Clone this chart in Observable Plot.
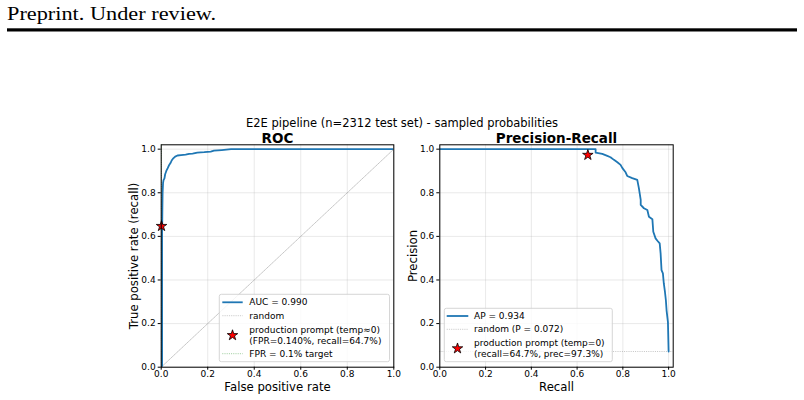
<!DOCTYPE html>
<html><head><meta charset="utf-8">
<script src="https://cdn.jsdelivr.net/npm/d3@7"></script>
<script src="https://cdn.jsdelivr.net/npm/@observablehq/plot@0.6"></script>
<style>
html,body{margin:0;padding:0;background:#fff;}
#page{position:relative;width:804px;height:400px;overflow:hidden;font-family:"DejaVu Sans",sans-serif;}
#page svg{position:absolute;}
</style></head><body><div id="page"></div>
<script>
// ---------- data ----------
const xTicks = [0, 0.2, 0.4, 0.6, 0.8, 1.0];
const yTicks = [0, 0.2, 0.4, 0.6, 0.8, 1.0];

const rocFpr = [0, 0.004, 0.004, 0.005, 0.006, 0.008, 0.010, 0.014, 0.017, 0.022, 0.028, 0.033, 0.040, 0.045, 0.052, 0.060, 0.070, 0.085, 0.105, 0.120, 0.135, 0.155, 0.185, 0.213, 0.227, 0.260, 0.300, 1.0];
const rocTpr = [0, 0, 0.62, 0.72, 0.80, 0.845, 0.858, 0.866, 0.885, 0.900, 0.913, 0.925, 0.936, 0.948, 0.958, 0.966, 0.971, 0.973, 0.975, 0.978, 0.980, 0.984, 0.986, 0.989, 0.993, 0.996, 1.0, 1.0];

const prRecall = [0, 0.681, 0.681, 0.710, 0.732, 0.746, 0.761, 0.776, 0.790, 0.798, 0.812, 0.819, 0.841, 0.863, 0.870, 0.878, 0.878, 0.892, 0.907, 0.914, 0.929, 0.933, 0.943, 0.951, 0.961, 0.965, 0.969, 0.975, 0.979, 0.984, 0.988, 0.991, 0.997, 0.999, 1.0];
const prPrecision = [1, 1, 0.984, 0.978, 0.969, 0.963, 0.951, 0.940, 0.928, 0.913, 0.894, 0.877, 0.867, 0.859, 0.821, 0.767, 0.744, 0.729, 0.721, 0.690, 0.679, 0.621, 0.591, 0.580, 0.568, 0.522, 0.445, 0.430, 0.384, 0.345, 0.307, 0.261, 0.207, 0.115, 0.072];

const randomX = [0, 1];
const randomY = [0, 1];
const opFpr = [0.0014];
const opRecall = [0.647];
const opPrecision = [0.973];
const fprTarget = [0.001];
const baseRate = [0.072];

const headerText = "Preprint. Under review.";
const suptitle = "E2E pipeline (n=2312 test set) - sampled probabilities";
const panelTitles = ["ROC", "Precision-Recall"];
const xLabels = ["False positive rate", "Recall"];
const yLabels = ["True positive rate (recall)", "Precision"];
const rocLegendLabels = ["AUC = 0.990", "random", ["production prompt (temp\u22480)", "(FPR=0.140%, recall=64.7%)"], "FPR = 0.1% target"];
const prLegendLabels = ["AP = 0.934", "random (P = 0.072)", ["production prompt (temp=0)", "(recall=64.7%, prec=97.3%)"]];

// ---------- build ----------
const BLUE = "#1f77b4";
const fmt = d3.format(".1f");
const page = document.getElementById("page");

const rocData = rocFpr.map((f, i) => ({fpr: f, tpr: rocTpr[i]}));
const prData = prRecall.map((r, i) => ({recall: r, precision: prPrecision[i]}));
const diag = randomX.map((x, i) => ({x, y: randomY[i]}));

const gridStyle = {stroke: "#b0b0b0", strokeOpacity: 0.35, strokeWidth: 0.8};
const commonStyle = {background: "transparent", overflow: "visible", fontFamily: "DejaVu Sans", fontSize: "9px", color: "black"};

function panel(opts) {
  return Plot.plot({
    width: 300, height: 290,
    marginLeft: opts.ml, marginRight: opts.mr, marginTop: 34.3, marginBottom: 33.3,
    x: {domain: opts.xDomain, label: null},
    y: {domain: [0, 1.02], label: null},
    style: commonStyle,
    marks: [
      Plot.gridX(xTicks, gridStyle),
      Plot.gridY(yTicks, gridStyle),
      ...opts.marks,
      Plot.axisX(xTicks, {tickFormat: fmt, tickSize: 3, tickPadding: 0.5, label: null}),
      Plot.axisY(yTicks, {tickFormat: fmt, tickSize: 3, tickPadding: 2.5, label: null}),
      Plot.frame({stroke: "black", strokeWidth: 1}),
      Plot.text([opts.title], {text: d => d, frameAnchor: "top", textAnchor: "middle", lineAnchor: "middle", dy: -6.1, fontWeight: "bold", fontSize: 13.5}),
      Plot.text([opts.xLabel], {text: d => d, frameAnchor: "bottom", textAnchor: "middle", lineAnchor: "middle", dy: 19.6, fontSize: 11.7}),
      Plot.text([opts.yLabel], {text: d => d, frameAnchor: "left", textAnchor: "middle", lineAnchor: "middle", dx: -26.7, rotate: -90, fontSize: 11.7})
    ]
  });
}

const roc = panel({
  ml: 60.7, mr: 6.7, xDomain: [0, 1],
  title: panelTitles[0], xLabel: xLabels[0], yLabel: yLabels[0],
  marks: [
    Plot.line(diag, {x: "x", y: "y", stroke: "#888", strokeOpacity: 0.7, strokeWidth: 0.7, strokeDasharray: "1.2,1"}),
    Plot.ruleX(fprTarget, {stroke: "green", strokeOpacity: 0.5, strokeWidth: 0.8, strokeDasharray: "1,1.2"}),
    Plot.line(rocData, {x: "fpr", y: "tpr", stroke: BLUE, strokeWidth: 1.8, clip: true}),
    Plot.dot(opFpr.map((f, i) => ({fpr: f, tpr: opRecall[i]})), {x: "fpr", y: "tpr", symbol: "star", r: 3.3, fill: "red", stroke: "black", strokeWidth: 0.8})
  ]
});
roc.style.left = "100px"; roc.style.top = "110px";
page.appendChild(roc);

const pr = panel({
  ml: 59.3, mr: 7.3, xDomain: [0, 1.02],
  title: panelTitles[1], xLabel: xLabels[1], yLabel: yLabels[1],
  marks: [
    Plot.ruleY(baseRate, {stroke: "#888", strokeOpacity: 0.7, strokeWidth: 0.7, strokeDasharray: "1,1.2"}),
    Plot.line(prData, {x: "recall", y: "precision", stroke: BLUE, strokeWidth: 1.8, clip: true}),
    Plot.dot(opRecall.map((r, i) => ({recall: r, precision: opPrecision[i]})), {x: "recall", y: "precision", symbol: "star", r: 3.3, fill: "red", stroke: "black", strokeWidth: 0.8})
  ]
});
pr.style.left = "380px"; pr.style.top = "110px";
page.appendChild(pr);

// ---------- overlay: header, suptitle, legends ----------
const ov = d3.create("svg").attr("width", 804).attr("height", 400)
  .style("left", "0px").style("top", "0px").style("pointer-events", "none")
  .attr("font-family", "DejaVu Sans");

ov.append("text").attr("x", 7).attr("y", 20).attr("font-family", "Liberation Serif, serif")
  .attr("font-size", 19).attr("textLength", 209).attr("lengthAdjust", "spacingAndGlyphs")
  .attr("fill", "black").text(headerText);
ov.append("rect").attr("x", 7).attr("y", 28.3).attr("width", 790).attr("height", 3.2).attr("fill", "black");

ov.append("text").attr("x", 402).attr("y", 126.5).attr("text-anchor", "middle")
  .attr("font-size", 11.5).attr("fill", "black").text(suptitle);

const starPath = d3.symbol(d3.symbolStar, Math.PI * 3.3 * 3.3)();

function legend(box, handleX, textX, rows) {
  const g = ov.append("g");
  g.append("rect").attr("x", box[0]).attr("y", box[1]).attr("width", box[2]).attr("height", box[3])
    .attr("rx", 2).attr("fill", "white").attr("fill-opacity", 0.8).attr("stroke", "#cccccc").attr("stroke-width", 0.8);
  rows.forEach(r => {
    if (r.kind === "line") {
      g.append("line").attr("x1", handleX[0]).attr("x2", handleX[1]).attr("y1", r.y).attr("y2", r.y)
        .attr("stroke", r.stroke).attr("stroke-width", r.width).attr("stroke-opacity", r.opacity || 1)
        .attr("stroke-dasharray", r.dash || null);
    } else {
      g.append("path").attr("d", starPath).attr("transform", `translate(${(handleX[0] + handleX[1]) / 2},${r.y})`)
        .attr("fill", "red").attr("stroke", "black").attr("stroke-width", 0.8);
    }
    const lines = Array.isArray(r.label) ? r.label : [r.label];
    lines.forEach((t, j) => {
      g.append("text").attr("x", textX).attr("y", r.y + (j - (lines.length - 1) / 2) * 10.4).attr("dy", "0.35em")
        .attr("font-size", 9).attr("fill", "black").text(t);
    });
  });
}

legend([219.3, 294.3, 170.2, 67.4], [222.3, 242.7], 249.3, [
  {kind: "line", y: 302.3, stroke: BLUE, width: 1.8, label: rocLegendLabels[0]},
  {kind: "line", y: 315.7, stroke: "#888", width: 0.7, opacity: 0.6, dash: "1.2,1", label: rocLegendLabels[1]},
  {kind: "star", y: 335.3, label: rocLegendLabels[2]},
  {kind: "line", y: 353.7, stroke: "green", width: 0.8, opacity: 0.5, dash: "1,1.2", label: rocLegendLabels[3]}
]);
legend([444.3, 308.3, 168, 53.4], [446.7, 468.3], 474, [
  {kind: "line", y: 316, stroke: BLUE, width: 1.8, label: prLegendLabels[0]},
  {kind: "line", y: 329.3, stroke: "#888", width: 0.7, opacity: 0.6, dash: "1.2,1", label: prLegendLabels[1]},
  {kind: "star", y: 348.5, label: prLegendLabels[2]}
]);

page.appendChild(ov.node());
</script></body></html>
